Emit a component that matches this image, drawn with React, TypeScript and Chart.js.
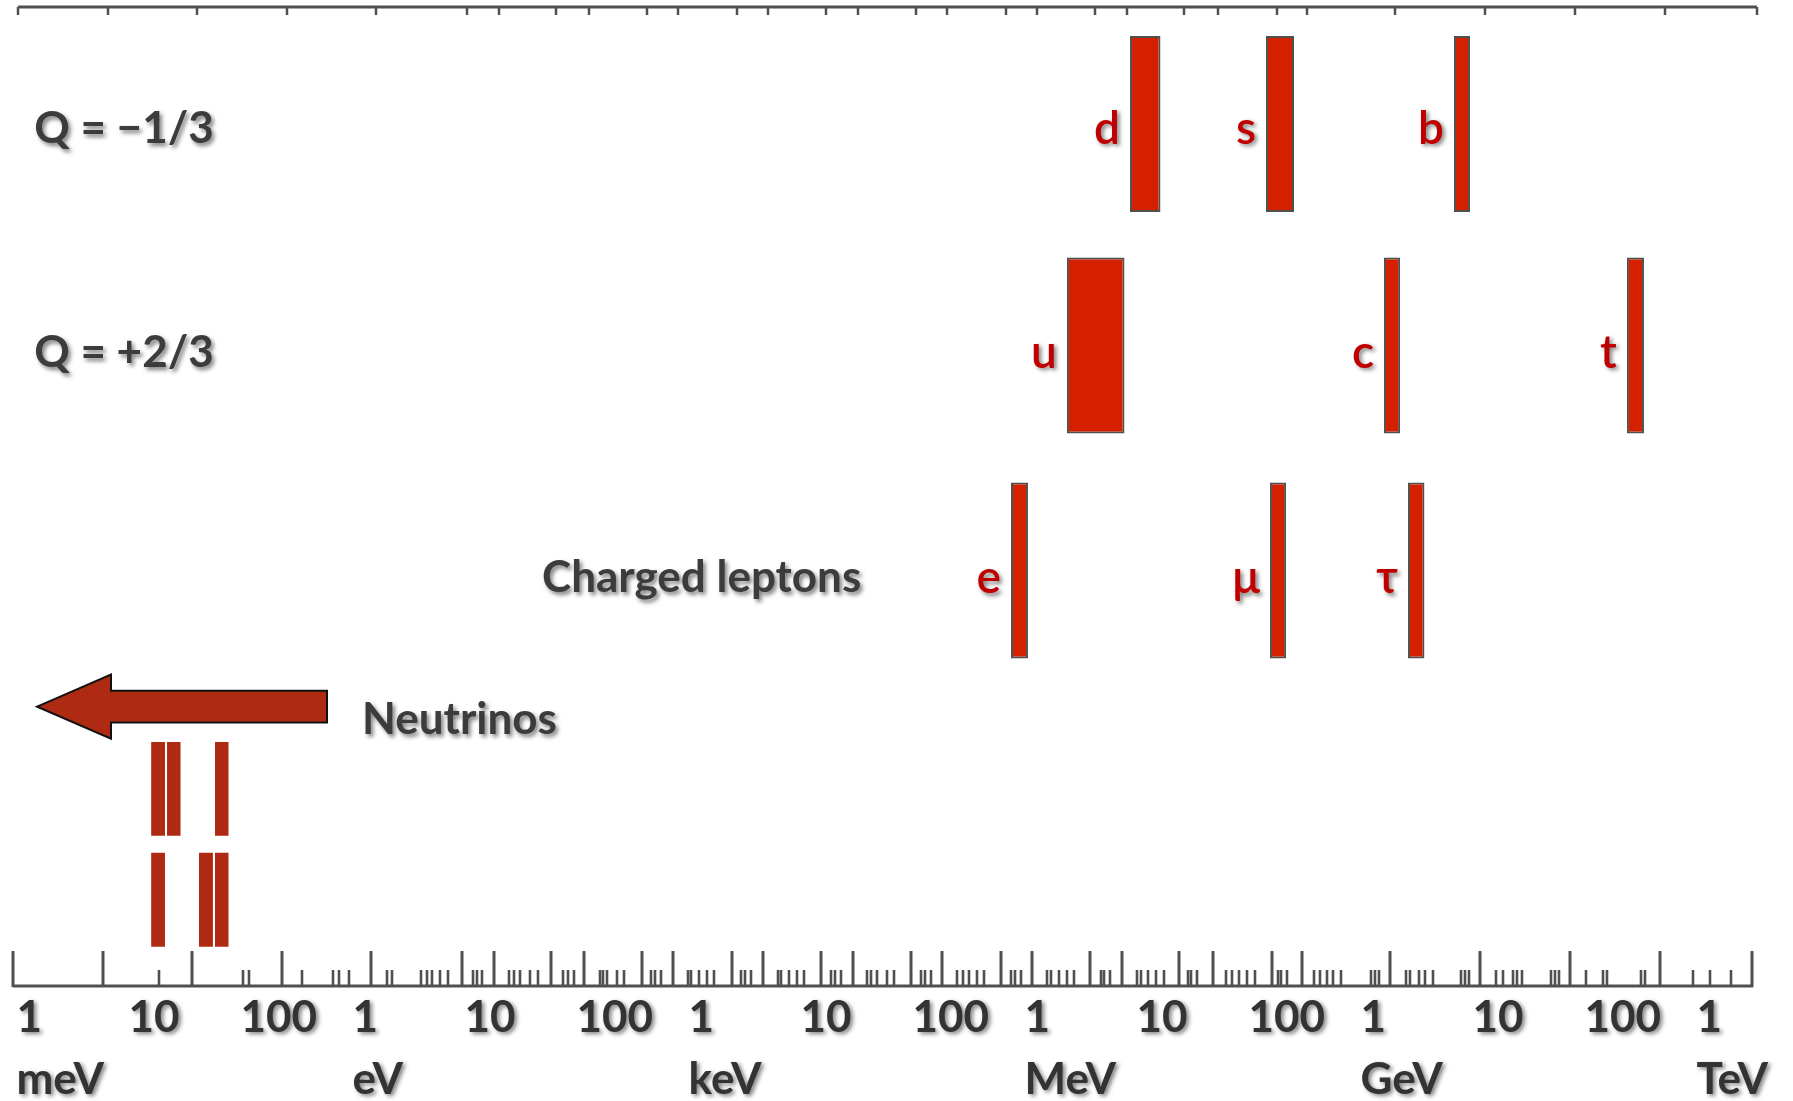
import React, { useEffect, useRef } from "react";
import { Chart, registerables } from "chart.js";

Chart.register(...registerables);

// ---------- axis (energy in eV, logarithmic) ----------
const decadeValues = [1e-3, 1e-2, 1e-1, 1, 10, 100, 1e3, 1e4, 1e5, 1e6, 1e7, 1e8, 1e9, 1e10, 1e11, 1e12];
const decadeLabels = ["1", "10", "100", "1", "10", "100", "1", "10", "100", "1", "10", "100", "1", "10", "100", "1"];
const unitLabels = ["meV", "", "", "eV", "", "", "keV", "", "", "MeV", "", "", "GeV", "", "", "TeV"];
const axisMin = 7.12e-4;
const axisMax = 2.446e12;

// ruler tick marks (log10 of eV)
const rulerMajor = [
  -3.147, -2.344, -1.549, -0.746, 0.049, 0.862, 1.147, 1.656, 1.951, 2.469, 2.746, 3.272, 3.549,
  4.067, 4.353, 4.871, 5.147, 5.674, 5.951, 6.469, 6.754, 7.263, 7.567, 8.094, 8.362, 9.147,
  9.951, 10.754, 11.558, 12.379,
];
const rulerMinor = [
  -1.844, -1.094, -1.04, -0.567, -0.29, -0.237, -0.147, 0.192, 0.237, 0.496, 0.549, 0.594, 0.665,
  0.737, 0.96, 0.996, 1.04, 1.281, 1.326, 1.379, 1.469, 1.54, 1.763, 1.808, 1.862, 2.094, 2.121,
  2.156, 2.246, 2.308, 2.549, 2.585, 2.638, 2.879, 2.906, 2.978, 3.049, 3.112, 3.353, 3.388, 3.442,
  3.683, 3.71, 3.781, 3.853, 3.915, 4.156, 4.192, 4.246, 4.478, 4.513, 4.567, 4.656, 4.719, 4.96,
  4.996, 5.049, 5.281, 5.335, 5.388, 5.46, 5.522, 5.763, 5.799, 5.853, 6.085, 6.121, 6.192, 6.263,
  6.326, 6.567, 6.594, 6.647, 6.888, 6.924, 6.987, 7.058, 7.129, 7.344, 7.371, 7.424, 7.683, 7.737,
  7.799, 7.871, 7.942, 8.147, 8.174, 8.228, 8.469, 8.522, 8.585, 8.638, 8.71, 8.978, 9.013, 9.049,
  9.29, 9.326, 9.406, 9.46, 9.531, 9.781, 9.817, 9.853, 10.094, 10.156, 10.246, 10.281, 10.326,
  10.585, 10.621, 10.656, 10.897, 11.049, 11.085, 11.388, 11.424, 11.853, 12.004, 12.192,
];

// ---------- rows ----------
const rowPositions = [1, 3, 5.03, 7, 8];
const rowLabels = ["Q = \u22121/3", "Q = +2/3", "Charged leptons", "Neutrinos"];
const rowLabelX = [1.1e-3, 1.1e-3, 37.7, 0.93]; // eV, left edge of text
const rowLabelY = [1.046, 3.067, 5.1, 6.378];

// ---------- charged fermions (eV) ----------
const fermionNames = ["d", "s", "b", "u", "c", "t", "e", "\u03bc", "\u03c4"];
const fermionRow = [1, 1, 1, 3, 3, 3, 5.03, 5.03, 5.03];
const fermionLow = [6.7e6, 1.096e8, 5.23e9, 1.83e6, 1.24e9, 1.83e11, 5.8e5, 1.19e8, 2.03e9];
const fermionHigh = [1.253e7, 1.95e8, 7.28e9, 5.98e6, 1.73e9, 2.6e11, 8.22e5, 1.66e8, 2.85e9];

// ---------- neutrinos (eV) ----------
const neutrinoRow = [7, 7, 7, 8, 8, 8];
const neutrinoLow = [1.22e-2, 1.69e-2, 4.53e-2, 1.22e-2, 3.26e-2, 4.53e-2];
const neutrinoHigh = [1.62e-2, 2.23e-2, 5.98e-2, 1.62e-2, 4.34e-2, 5.98e-2];

// ---------- arrow (eV / row units) ----------
const arrowTip = 1.17e-3;
const arrowHeadBase = 5.34e-3;
const arrowTail = 0.453;
const arrowRow = 6.258;
const arrowHeadHalf = 0.289;
const arrowShaftHalf = 0.144;

const FONT = "Lato, 'Open Sans', 'DejaVu Sans', sans-serif";

function shadowOn(ctx: CanvasRenderingContext2D) {
  ctx.shadowColor = "rgba(0,0,0,0.5)";
  ctx.shadowBlur = 4;
  ctx.shadowOffsetX = 2.5;
  ctx.shadowOffsetY = 2.5;
}
function shadowOff(ctx: CanvasRenderingContext2D) {
  ctx.shadowColor = "rgba(0,0,0,0)";
  ctx.shadowBlur = 0;
  ctx.shadowOffsetX = 0;
  ctx.shadowOffsetY = 0;
}

const decorPlugin = {
  id: "decor",
  beforeDraw(chart: any) {
    shadowOn(chart.ctx);
  },
  beforeDatasetsDraw(chart: any) {
    shadowOff(chart.ctx);
  },
  afterDatasetsDraw(chart: any) {
    const { ctx, chartArea } = chart;
    const x = chart.scales.x;
    const y = chart.scales.y;
    ctx.save();
    shadowOff(ctx);

    // bottom ruler
    const base = chartArea.bottom;
    ctx.strokeStyle = "#505050";
    ctx.lineWidth = 3;
    ctx.beginPath();
    ctx.moveTo(chartArea.left, base);
    ctx.lineTo(chartArea.right, base);
    ctx.stroke();
    ctx.lineWidth = 3;
    ctx.beginPath();
    rulerMajor.forEach((e) => {
      const px = Math.round(x.getPixelForValue(Math.pow(10, e)));
      ctx.moveTo(px, base + 1);
      ctx.lineTo(px, base - 35);
    });
    ctx.stroke();
    ctx.lineWidth = 2.6;
    ctx.beginPath();
    rulerMinor.forEach((e) => {
      const px = Math.round(x.getPixelForValue(Math.pow(10, e)));
      ctx.moveTo(px, base);
      ctx.lineTo(px, base - 16);
    });
    ctx.stroke();

    // top ruler edge
    const top = chartArea.top;
    ctx.lineWidth = 3;
    ctx.beginPath();
    ctx.moveTo(chartArea.left + 5, top);
    ctx.lineTo(chartArea.right + 4, top);
    ctx.stroke();
    ctx.lineWidth = 2.5;
    ctx.beginPath();
    rulerMajor.forEach((e) => {
      const px = Math.round(x.getPixelForValue(Math.pow(10, e))) + 5;
      ctx.moveTo(px, top);
      ctx.lineTo(px, top + 8);
    });
    ctx.stroke();

    // neutrino arrow
    const xt = x.getPixelForValue(arrowTip);
    const xh = x.getPixelForValue(arrowHeadBase);
    const xs = x.getPixelForValue(arrowTail);
    const yc = y.getPixelForValue(arrowRow);
    const hh = Math.abs(y.getPixelForValue(arrowRow + arrowHeadHalf) - yc);
    const sh = Math.abs(y.getPixelForValue(arrowRow + arrowShaftHalf) - yc);
    ctx.beginPath();
    ctx.moveTo(xt, yc);
    ctx.lineTo(xh, yc - hh);
    ctx.lineTo(xh, yc - sh);
    ctx.lineTo(xs, yc - sh);
    ctx.lineTo(xs, yc + sh);
    ctx.lineTo(xh, yc + sh);
    ctx.lineTo(xh, yc + hh);
    ctx.closePath();
    ctx.fillStyle = "#ae2a12";
    ctx.fill();
    ctx.strokeStyle = "#111111";
    ctx.lineWidth = 2;
    ctx.lineJoin = "miter";
    ctx.stroke();

    // text
    shadowOn(ctx);
    ctx.textBaseline = "middle";
    ctx.textAlign = "left";
    ctx.fillStyle = "#3c3c3c";
    ctx.font = `bold 44px ${FONT}`;
    rowLabels.forEach((t, i) => {
      ctx.fillText(t, x.getPixelForValue(rowLabelX[i]), y.getPixelForValue(rowLabelY[i]));
    });

    ctx.textAlign = "right";
    ctx.fillStyle = "#c00000";
    ctx.font = `600 46px ${FONT}`;
    const meta = chart.getDatasetMeta(0);
    meta.data.forEach((el: any, i: number) => {
      const left = Math.min(el.x, el.base);
      const ri = rowPositions.indexOf(fermionRow[i]);
      ctx.fillText(fermionNames[i], left - 10, y.getPixelForValue(rowLabelY[ri]));
    });
    ctx.restore();
  },
};

export default function App() {
  const ref = useRef<HTMLCanvasElement | null>(null);
  useEffect(() => {
    document.body.style.margin = "0";
    document.body.style.overflow = "hidden";
    const canvas = ref.current;
    if (!canvas) return;
    const chart = new Chart(canvas, {
      type: "bar",
      data: {
        datasets: [
          {
            label: "Charged fermions",
            data: fermionNames.map((_, i) => ({ x: [fermionLow[i], fermionHigh[i]], y: fermionRow[i] })) as any,
            backgroundColor: "#d52000",
            borderColor: "#4f4f4f",
            borderWidth: 2,
            borderSkipped: false,
            grouped: false,
            barPercentage: 1.588,
            categoryPercentage: 1,
          } as any,
          {
            label: "Neutrinos",
            data: neutrinoRow.map((r, i) => ({ x: [neutrinoLow[i], neutrinoHigh[i]], y: r })) as any,
            backgroundColor: "#ae2a12",
            borderWidth: 0,
            grouped: false,
            barPercentage: 0.848,
            categoryPercentage: 1,
          } as any,
        ],
      },
      options: {
        indexAxis: "y",
        responsive: false,
        animation: false,
        events: [],
        layout: { padding: { left: 13, right: 40, top: 7, bottom: 0 } },
        plugins: { legend: { display: false }, tooltip: { enabled: false } },
        scales: {
          x: {
            type: "logarithmic",
            position: "bottom",
            offset: false,
            min: axisMin,
            max: axisMax,
            afterBuildTicks: (s: any) => {
              s.ticks = decadeValues.map((v) => ({ value: v }));
            },
            afterFit: (s: any) => {
              s.height = 115;
              s.paddingLeft = 0;
              s.paddingRight = 0;
            },
            grid: { display: false, drawTicks: false, offset: false },
            border: { display: false },
            ticks: {
              autoSkip: false,
              maxRotation: 0,
              minRotation: 0,
              align: "start",
              labelOffset: -13,
              padding: 1,
              color: "#333333",
              font: { family: FONT, size: 44, weight: "bold", lineHeight: 1.4 },
              callback: (_v: any, index: number) =>
                unitLabels[index] ? [decadeLabels[index], unitLabels[index]] : decadeLabels[index],
            },
          } as any,
          y: {
            type: "linear",
            display: false,
            reverse: true,
            offset: false,
            grid: { offset: false },
            min: -0.0548,
            max: 8.7786,
            afterBuildTicks: (s: any) => {
              s.ticks = [1, 3, 5, 7, 8].map((v) => ({ value: v }));
            },
          } as any,
        },
      },
      plugins: [decorPlugin],
    });
    return () => chart.destroy();
  }, []);
  return (
    <div style={{ width: 1793, height: 1101, background: "#ffffff" }}>
      <canvas ref={ref} width={1793} height={1101} style={{ display: "block" }} />
    </div>
  );
}
